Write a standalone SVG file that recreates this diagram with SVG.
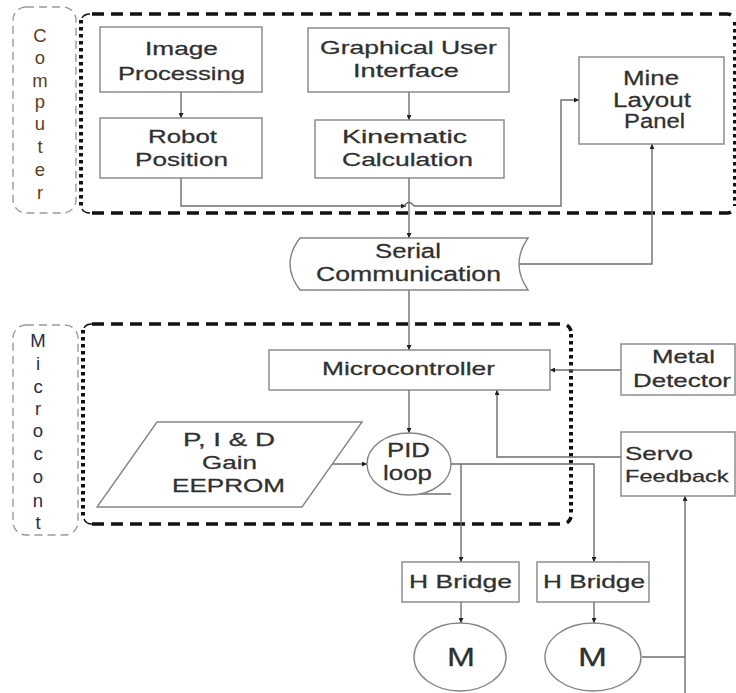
<svg xmlns="http://www.w3.org/2000/svg" width="736" height="693" viewBox="0 0 736 693">
<defs>
<marker id="ah" viewBox="0 0 6 6" refX="6" refY="3" markerWidth="5" markerHeight="5" orient="auto" markerUnits="userSpaceOnUse">
<path d="M0,0 L6,3 L0,6 Z" fill="#222"/>
</marker>
<style>
.bx{fill:#fff;stroke:#858585;stroke-width:1.4}
.t{font-family:"Liberation Sans",Arial,sans-serif;fill:#303030;stroke:#303030;stroke-width:0.25;font-size:18.5px}
.lbl{font-family:"Liberation Sans",Arial,sans-serif;font-size:18.5px;text-anchor:middle}
.c{fill:none;stroke:#6e6e6e;stroke-width:1.4}
.ca{fill:none;stroke:#6e6e6e;stroke-width:1.4;marker-end:url(#ah)}
.hd{fill:none;stroke:#111;stroke-width:3.5;stroke-dasharray:12 7}
.vd{fill:none;stroke:#111;stroke-width:4;stroke-dasharray:3.5 3.5}
.gd{fill:none;stroke:#9a9a9a;stroke-width:1.4;stroke-dasharray:8 5}
</style>
</defs>

<g id="computer-label">
<rect class="gd" x="13" y="7" width="63" height="206" rx="13"/>
<g class="lbl" fill="#5e3d22">
<text x="40" y="42">C</text><text x="40" y="64">o</text><text x="40" y="87">m</text><text x="40" y="108">p</text><text x="40" y="130">u</text><text x="40" y="153">t</text><text x="40" y="176">e</text><text x="40" y="199">r</text>
</g>
</g>

<g id="computer-region">
<path class="hd" d="M92,14 H727 Q733,14 735,20"/>
<path class="hd" d="M92,213 H727 Q733,213 735,207"/>
<path class="vd" d="M81,20 V208"/>
<path class="vd" d="M735,22 V206"/>
<path fill="none" stroke="#111" stroke-width="1.5" d="M82,18 Q84,14 90,14 M82,209 Q84,213 90,213"/>
</g>

<g id="micro-label">
<rect class="gd" x="13" y="325" width="65" height="210" rx="13"/>
<g class="lbl" fill="#2c2c44">
<text x="38" y="347">M</text><text x="38" y="370">i</text><text x="38" y="393">c</text><text x="38" y="415">r</text><text x="38" y="437">o</text><text x="38" y="460">c</text><text x="38" y="483">o</text><text x="38" y="507">n</text><text x="38" y="529">t</text>
</g>
</g>

<g id="micro-region">
<path class="hd" d="M92,324 H562 Q569,324 571,331"/>
<path class="hd" d="M92,524 H562 Q569,524 571,517"/>
<path class="vd" d="M83,330 V518"/>
<path class="vd" d="M571,334 V516"/>
<path fill="none" stroke="#111" stroke-width="1.5" d="M84,328 Q86,324 92,324 M84,519 Q86,524 92,524"/>
</g>

<g id="connectors">
<path class="ca" d="M181,92 V118"/>
<path class="ca" d="M409,92 V120"/>
<path class="ca" d="M181,178 V206 H406"/>
<path class="c" d="M404,206 Q409,199 414,206"/>
<path class="ca" d="M414,206 H561 V100 H579"/>
<path class="ca" d="M409,178 V238"/>
<path class="ca" d="M519,264 H652 V144"/>
<path class="ca" d="M409,290 V350"/>
<path class="ca" d="M621,370 H550"/>
<path class="ca" d="M621,457 H497 V390"/>
<path class="ca" d="M409,390 V433"/>
<path class="ca" d="M332,464 H367"/>
<path class="ca" d="M451,464 H594 V562"/>
<path class="ca" d="M461,464 V562"/>
<path class="c" d="M415,494 H451"/>
<path class="ca" d="M461,602 V623"/>
<path class="ca" d="M594,602 V623"/>
<path class="c" d="M642,657 H685"/>
<path class="ca" d="M685,693 V496"/>
</g>

<g id="image-processing">
<rect class="bx" x="100" y="27" width="162" height="65"/>
<text class="t" transform="translate(145,55) scale(1.4,1)" textLength="52.1" lengthAdjust="spacingAndGlyphs">Image</text>
<text class="t" transform="translate(118,80) scale(1.4,1)" textLength="90.7" lengthAdjust="spacingAndGlyphs">Processing</text>
</g>

<g id="robot-position">
<rect class="bx" x="100" y="118" width="162" height="60"/>
<text class="t" transform="translate(148,143) scale(1.4,1)" textLength="49.3" lengthAdjust="spacingAndGlyphs">Robot</text>
<text class="t" transform="translate(135,166) scale(1.4,1)" textLength="66.4" lengthAdjust="spacingAndGlyphs">Position</text>
</g>

<g id="gui">
<rect class="bx" x="308" y="28" width="201" height="64"/>
<text class="t" transform="translate(320,54) scale(1.4,1)" textLength="126.4" lengthAdjust="spacingAndGlyphs">Graphical User</text>
<text class="t" transform="translate(353,77) scale(1.4,1)" textLength="75.7" lengthAdjust="spacingAndGlyphs">Interface</text>
</g>

<g id="kinematic-calculation">
<rect class="bx" x="315" y="120" width="189" height="58"/>
<text class="t" transform="translate(342,143) scale(1.4,1)" textLength="89.3" lengthAdjust="spacingAndGlyphs">Kinematic</text>
<text class="t" transform="translate(342,166) scale(1.4,1)" textLength="93.6" lengthAdjust="spacingAndGlyphs">Calculation</text>
</g>

<g id="mine-layout-panel">
<rect class="bx" x="579" y="57" width="145" height="87"/>
<text class="t" style="font-size:20px" transform="translate(623,85) scale(1.4,1)" textLength="40" lengthAdjust="spacingAndGlyphs">Mine</text>
<text class="t" style="font-size:20px" transform="translate(613,107) scale(1.4,1)" textLength="55.7" lengthAdjust="spacingAndGlyphs">Layout</text>
<text class="t" style="font-size:20px" transform="translate(624,128) scale(1.4,1)" textLength="43.6" lengthAdjust="spacingAndGlyphs">Panel</text>
</g>

<g id="serial-communication">
<path class="bx" d="M300,238 H528 Q510,264 528,290 H300 Q280,264 300,238 Z"/>
<text class="t" style="font-size:20px" transform="translate(375,258) scale(1.4,1)" textLength="47.1" lengthAdjust="spacingAndGlyphs">Serial</text>
<text class="t" style="font-size:20px" transform="translate(316,281) scale(1.4,1)" textLength="132.1" lengthAdjust="spacingAndGlyphs">Communication</text>
</g>

<g id="microcontroller">
<rect class="bx" x="269" y="350" width="281" height="40"/>
<text class="t" style="font-size:18px" transform="translate(322,375) scale(1.4,1)" textLength="123.6" lengthAdjust="spacingAndGlyphs">Microcontroller</text>
</g>

<g id="metal-detector">
<rect class="bx" x="621" y="344" width="114" height="51"/>
<text class="t" transform="translate(652,363) scale(1.4,1)" textLength="45" lengthAdjust="spacingAndGlyphs">Metal</text>
<text class="t" style="font-size:18px" transform="translate(633,387) scale(1.4,1)" textLength="70" lengthAdjust="spacingAndGlyphs">Detector</text>
</g>

<g id="servo-feedback">
<rect class="bx" x="621" y="432" width="114" height="64"/>
<text class="t" transform="translate(625,460) scale(1.4,1)" textLength="48.6" lengthAdjust="spacingAndGlyphs">Servo</text>
<text class="t" style="font-size:17px" transform="translate(625,482) scale(1.4,1)" textLength="74" lengthAdjust="spacingAndGlyphs">Feedback</text>
</g>

<g id="pid-gain-eeprom">
<path class="bx" d="M157,422 H362 L302,507 H97 Z"/>
<text class="t" style="font-size:17.5px" transform="translate(183,446) scale(1.4,1)" textLength="65.7" lengthAdjust="spacingAndGlyphs">P, I &amp; D</text>
<text class="t" style="font-size:17.5px" transform="translate(202,469) scale(1.4,1)" textLength="39.3" lengthAdjust="spacingAndGlyphs">Gain</text>
<text class="t" style="font-size:17.5px" transform="translate(172,492) scale(1.4,1)" textLength="80.7" lengthAdjust="spacingAndGlyphs">EEPROM</text>
</g>

<g id="pid-loop">
<ellipse class="bx" cx="409" cy="464" rx="42" ry="31"/>
<text class="t" style="font-size:20px" transform="translate(387,457) scale(1.4,1)" textLength="30.7" lengthAdjust="spacingAndGlyphs">PID</text>
<text class="t" style="font-size:20px" transform="translate(383,480) scale(1.4,1)" textLength="35" lengthAdjust="spacingAndGlyphs">loop</text>
</g>

<g id="h-bridge-1">
<rect class="bx" x="402" y="562" width="117" height="40"/>
<text class="t" style="font-size:17.5px" transform="translate(409,588) scale(1.4,1)" textLength="73.6" lengthAdjust="spacingAndGlyphs">H Bridge</text>
</g>

<g id="h-bridge-2">
<rect class="bx" x="537" y="562" width="112" height="40"/>
<text class="t" style="font-size:17.5px" transform="translate(543,588) scale(1.4,1)" textLength="72.9" lengthAdjust="spacingAndGlyphs">H Bridge</text>
</g>

<g id="motor-1">
<ellipse class="bx" cx="460" cy="657" rx="46" ry="34"/>
<text class="t" style="font-size:26px" transform="translate(447,666) scale(1.4,1)" textLength="20" lengthAdjust="spacingAndGlyphs">M</text>
</g>

<g id="motor-2">
<ellipse class="bx" cx="593" cy="657" rx="48" ry="34"/>
<text class="t" style="font-size:26px" transform="translate(578,666) scale(1.4,1)" textLength="20.7" lengthAdjust="spacingAndGlyphs">M</text>
</g>
</svg>
